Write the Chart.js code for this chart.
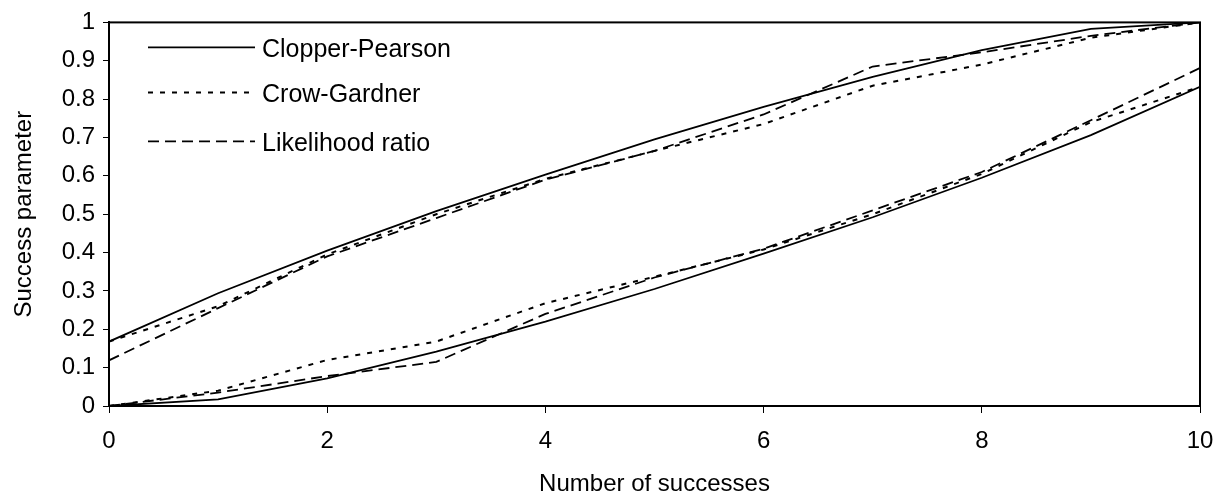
<!DOCTYPE html>
<html lang="en">
<head>
    <meta charset="UTF-8">
    <title>Confidence limits</title>
    <script src="https://cdn.jsdelivr.net/npm/chart.js"></script>
    <style>
        body { margin: 0; background: #fff; }
        .wrap { width: 1218px; height: 501px; position: relative; }
    </style>
</head>
<body>
    <div class="wrap">
        <canvas id="limitsChart"></canvas>
    </div>
    <script>
// number of successes out of 10 trials
const successes = [0, 1, 2, 3, 4, 5, 6, 7, 8, 9, 10];

// Clopper-Pearson (solid)
const cpUpper = [0.168, 0.294, 0.405, 0.508, 0.603, 0.695, 0.780, 0.858, 0.928, 0.983, 1];
const cpLower = [0, 0.017, 0.072, 0.142, 0.220, 0.305, 0.397, 0.492, 0.595, 0.706, 0.832];

// Crow-Gardner (dotted)
const cgUpper = [0.168, 0.260, 0.395, 0.500, 0.592, 0.665, 0.735, 0.835, 0.890, 0.960, 1];
const cgLower = [0, 0.040, 0.120, 0.168, 0.268, 0.337, 0.408, 0.500, 0.605, 0.740, 0.832];

// Likelihood ratio (dashed)
const lrUpper = [0.119, 0.255, 0.390, 0.490, 0.590, 0.665, 0.760, 0.885, 0.922, 0.965, 1];
const lrLower = [0, 0.035, 0.078, 0.115, 0.240, 0.335, 0.410, 0.510, 0.610, 0.745, 0.881];

const xTicks = [0, 2, 4, 6, 8, 10];

const FONT = "'Liberation Sans', Arial, sans-serif";

function points(values) {
    return successes.map((x, i) => ({ x: x, y: values[i] }));
}

function series(label, values, dash, width, inLegend) {
    return {
        label: label,
        data: points(values),
        borderColor: '#000',
        borderWidth: width,
        borderDash: dash,
        pointRadius: 0,
        fill: false,
        tension: 0,
        inLegend: inLegend
    };
}

const dotted = [5, 7];
const dashed = [11, 6];

// frame round the plot area and the legend inside it
const legendRows = [25, 70, 119];
const framePlugin = {
    id: 'frameAndLegend',
    afterDatasetsDraw(chart) {
        const ctx = chart.ctx;
        const a = chart.chartArea;
        ctx.save();
        ctx.strokeStyle = '#000';
        ctx.lineWidth = 2;
        ctx.setLineDash([]);
        ctx.strokeRect(a.left, a.top, a.right - a.left, a.bottom - a.top);

        let row = 0;
        chart.data.datasets.forEach(ds => {
            if (!ds.inLegend) return;
            const y = a.top + legendRows[row];
            ctx.beginPath();
            ctx.lineWidth = ds.borderWidth;
            ctx.setLineDash(ds.borderDash);
            ctx.moveTo(a.left + 39, y);
            ctx.lineTo(a.left + 146, y);
            ctx.stroke();
            ctx.setLineDash([]);
            ctx.fillStyle = '#000';
            ctx.font = '25px ' + FONT;
            ctx.textBaseline = 'middle';
            ctx.fillText(ds.label, a.left + 153, y + 3);
            row++;
        });
        ctx.restore();
    }
};

const ctx = document.getElementById('limitsChart').getContext('2d');
const chart = new Chart(ctx, {
    type: 'line',
    data: {
        datasets: [
            series('Clopper-Pearson', cpUpper, [], 1.8, true),
            series('Crow-Gardner', cgUpper, dotted, 2, true),
            series('Likelihood ratio', lrUpper, dashed, 1.8, true),
            series('Clopper-Pearson lower', cpLower, [], 1.8, false),
            series('Crow-Gardner lower', cgLower, dotted, 2, false),
            series('Likelihood ratio lower', lrLower, dashed, 1.8, false)
        ]
    },
    options: {
        responsive: true,
        maintainAspectRatio: false,
        animation: false,
        layout: { padding: { left: 0, right: 18, top: 22, bottom: 0 } },
        plugins: {
            legend: { display: false },
            tooltip: { enabled: false }
        },
        scales: {
            x: {
                type: 'linear',
                min: 0,
                max: 10,
                afterFit: scale => {
                    scale.height = 95;
                    scale.paddingLeft = 0;
                    scale.paddingRight = 0;
                },
                afterBuildTicks: scale => { scale.ticks = xTicks.map(v => ({ value: v })); },
                ticks: { color: '#000', font: { family: FONT, size: 24 }, padding: 14, maxRotation: 0 },
                grid: { drawOnChartArea: false, drawTicks: true, tickLength: 7, color: '#000', lineWidth: 1 },
                border: { display: true, color: '#000', width: 2 },
                title: {
                    display: true,
                    text: 'Number of successes',
                    color: '#000',
                    font: { family: FONT, size: 24 },
                    padding: { top: 0, bottom: 2 }
                }
            },
            y: {
                min: 0,
                max: 1,
                afterFit: scale => { scale.width = 109; },
                ticks: {
                    stepSize: 0.1,
                    color: '#000',
                    font: { family: FONT, size: 24 },
                    padding: 8,
                    callback: v => String(Number(v.toFixed(1)))
                },
                grid: { drawOnChartArea: false, drawTicks: true, tickLength: 6, color: '#000', lineWidth: 1 },
                border: { display: true, color: '#000', width: 2 },
                title: {
                    display: true,
                    text: 'Success parameter',
                    color: '#000',
                    font: { family: FONT, size: 24 },
                    padding: { top: 10, bottom: 0 }
                }
            }
        }
    },
    plugins: [framePlugin]
});
    </script>
</body>
</html>
